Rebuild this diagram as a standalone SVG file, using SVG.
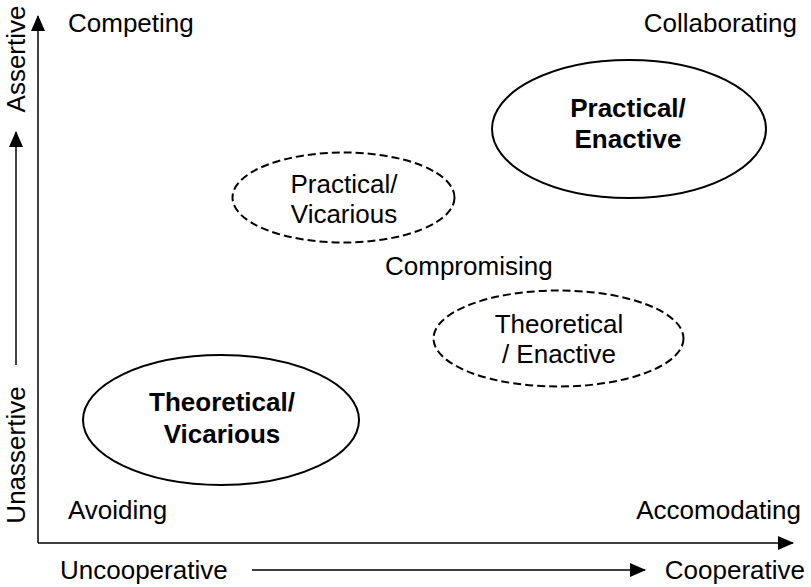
<svg xmlns="http://www.w3.org/2000/svg" width="811" height="587" viewBox="0 0 811 587">
<style>
text{font-family:"Liberation Sans",Arial,sans-serif;font-size:26px;fill:#000}
.b{font-weight:bold}
.m{text-anchor:middle}
.e{text-anchor:end}
.solid{fill:none;stroke:#000;stroke-width:2}
.dash{fill:none;stroke:#000;stroke-width:2;stroke-dasharray:8 4}
.ax{stroke:#000;stroke-width:1.5;fill:none}
</style>
<defs>
<marker id="ah2" viewBox="0 0 16 14" refX="15" refY="7" markerWidth="16" markerHeight="14" orient="auto" markerUnits="userSpaceOnUse">
<path d="M0,0 L16,7 L0,14 Z" fill="#000"/>
</marker>
</defs>
<g id="connectors">
<line class="ax" x1="38" y1="543" x2="38" y2="16" marker-end="url(#ah2)"/>
<line class="ax" x1="38" y1="543" x2="793" y2="543" marker-end="url(#ah2)"/>
<line class="ax" x1="16" y1="365" x2="16" y2="132" marker-end="url(#ah2)"/>
<line class="ax" x1="252" y1="570" x2="645" y2="570" marker-end="url(#ah2)"/>
</g>
<g id="labels">
<text x="68" y="32">Competing</text>
<text class="e" x="797" y="32">Collaborating</text>
<text x="385" y="275">Compromising</text>
<text x="68" y="519">Avoiding</text>
<text class="e" x="801" y="519">Accomodating</text>
<text x="60" y="579">Uncooperative</text>
<text class="e" x="805" y="579">Cooperative</text>
<text class="m" transform="translate(25,59) rotate(-90)">Assertive</text>
<text class="m" transform="translate(25,455) rotate(-90)">Unassertive</text>
</g>
<g id="practical-enactive">
<ellipse class="solid" cx="629" cy="129" rx="137" ry="69"/>
<text class="b m" x="628" y="117">Practical/</text>
<text class="b m" x="628" y="148">Enactive</text>
</g>
<g id="practical-vicarious">
<ellipse class="dash" cx="343.5" cy="197.5" rx="111" ry="45"/>
<text class="m" x="344" y="193">Practical/</text>
<text class="m" x="344" y="223">Vicarious</text>
</g>
<g id="theoretical-enactive">
<ellipse class="dash" cx="558.5" cy="338.5" rx="125" ry="48"/>
<text class="m" x="559" y="333">Theoretical</text>
<text class="m" x="559" y="363">/ Enactive</text>
</g>
<g id="theoretical-vicarious">
<ellipse class="solid" cx="221" cy="420" rx="138" ry="65"/>
<text class="b m" x="222" y="411">Theoretical/</text>
<text class="b m" x="222" y="443">Vicarious</text>
</g>
</svg>
